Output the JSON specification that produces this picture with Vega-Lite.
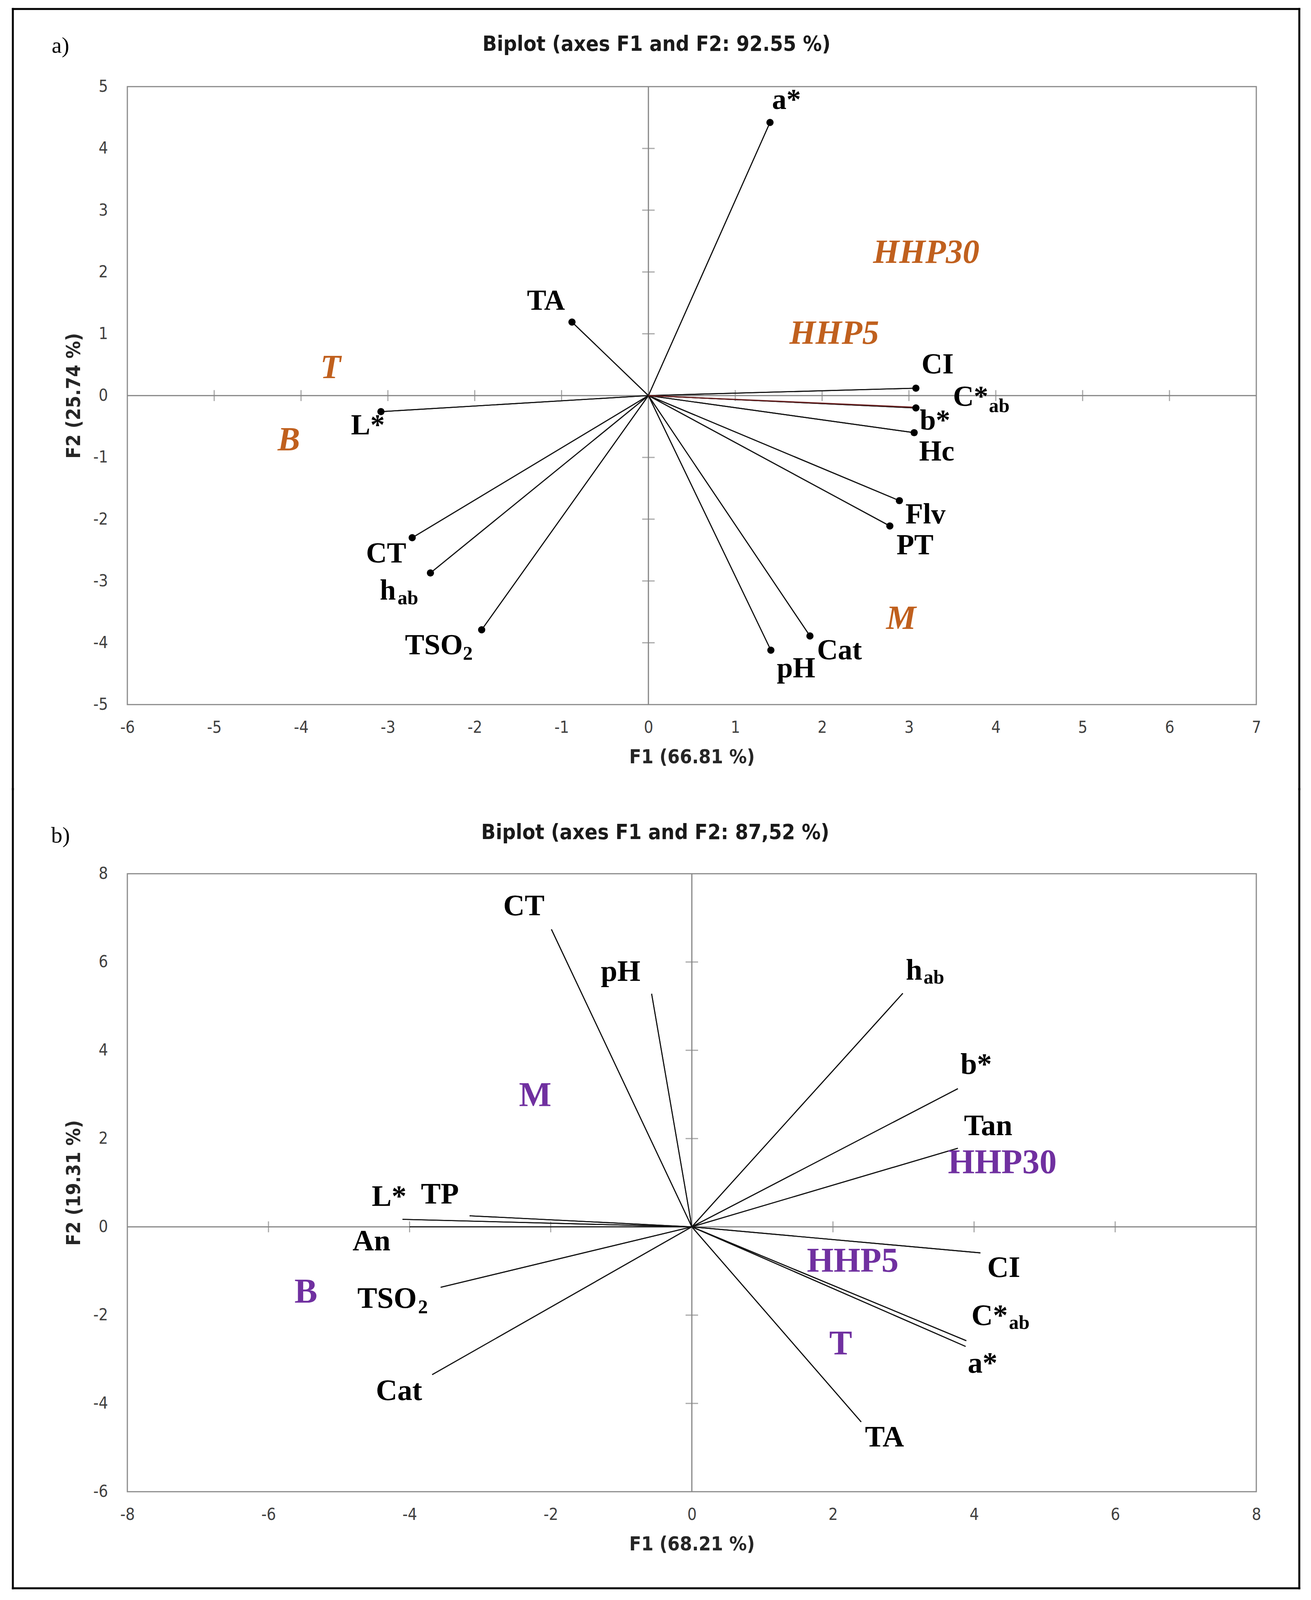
{
  "$schema": "https://vega.github.io/schema/vega-lite/v6.json",
  "background": "white",
  "padding": {"left": 27, "top": 17.7, "right": 5, "bottom": 5},
  "spacing": 433,
  "bounds": "flush",
  "resolve": {"scale": {"x": "independent", "y": "independent"}},
  "config": {
    "view": {"stroke": "#8c8c8c", "strokeWidth": 3},
    "axis": {
      "grid": false, "domain": false, "ticks": false, "tickSize": 0,
      "labelFont": "Liberation Sans Narrow, DejaVu Sans Condensed, Roboto, sans-serif",
      "labelFontSize": 42, "labelColor": "#404040", "labelFlush": false, "labelOverlap": false,
      "labelExpr": "'' + datum.value",
      "titleFont": "Liberation Sans Narrow, DejaVu Sans Condensed, Roboto, sans-serif",
      "titleFontSize": 50, "titleFontWeight": "bold", "titleColor": "#262626"
    },
    "axisX": {"labelPadding": 39, "titlePadding": 30},
    "axisY": {"labelPadding": 50, "titlePadding": 24}
  },
  "datasets": {
    "aVectors": [
      {"var": "a*", "x": 1.40, "y": 4.42},
      {"var": "TA", "x": -0.88, "y": 1.19},
      {"var": "L*", "x": -3.08, "y": -0.26},
      {"var": "CT", "x": -2.72, "y": -2.30},
      {"var": "hab", "x": -2.51, "y": -2.87},
      {"var": "TSO2", "x": -1.92, "y": -3.79},
      {"var": "pH", "x": 1.41, "y": -4.12},
      {"var": "Cat", "x": 1.86, "y": -3.89},
      {"var": "PT", "x": 2.78, "y": -2.11},
      {"var": "Flv", "x": 2.89, "y": -1.70},
      {"var": "Hc", "x": 3.06, "y": -0.60},
      {"var": "b*", "x": 3.08, "y": -0.20},
      {"var": "CI", "x": 3.08, "y": 0.12}
    ],
    "aVectorRed": [
      {"var": "C*ab", "x": 3.08, "y": -0.19}
    ],
    "aLabels": [
      {"label": "a*", "x": 1.59, "y": 4.78},
      {"label": "TA", "x": -1.18, "y": 1.53},
      {"label": "L*", "x": -3.23, "y": -0.49},
      {"label": "CT", "x": -3.02, "y": -2.56},
      {"label": "h", "x": -3.00, "y": -3.16},
      {"label": "TSO", "x": -2.47, "y": -4.05},
      {"label": "pH", "x": 1.70, "y": -4.42},
      {"label": "Cat", "x": 2.20, "y": -4.13},
      {"label": "PT", "x": 3.07, "y": -2.43},
      {"label": "Flv", "x": 3.19, "y": -1.93},
      {"label": "Hc", "x": 3.32, "y": -0.91},
      {"label": "b*", "x": 3.30, "y": -0.41},
      {"label": "C*", "x": 3.71, "y": -0.03},
      {"label": "CI", "x": 3.33, "y": 0.50}
    ],
    "aSubs": [
      {"label": "ab", "x": -2.77, "y": -3.28},
      {"label": "2", "x": -2.08, "y": -4.18},
      {"label": "ab", "x": 4.04, "y": -0.17}
    ],
    "aGroups": [
      {"label": "HHP30", "x": 3.20, "y": 2.31},
      {"label": "HHP5", "x": 2.14, "y": 1.005},
      {"label": "T", "x": -3.66, "y": 0.45},
      {"label": "B", "x": -4.14, "y": -0.72},
      {"label": "M", "x": 2.91, "y": -3.61}
    ],
    "aTicksX": [{"x": -5, "y": 0}, {"x": -4, "y": 0}, {"x": -3, "y": 0}, {"x": -2, "y": 0}, {"x": -1, "y": 0}, {"x": 1, "y": 0}, {"x": 2, "y": 0}, {"x": 3, "y": 0}, {"x": 4, "y": 0}, {"x": 5, "y": 0}, {"x": 6, "y": 0}],
    "aTicksY": [{"x": 0, "y": -4}, {"x": 0, "y": -3}, {"x": 0, "y": -2}, {"x": 0, "y": -1}, {"x": 0, "y": 1}, {"x": 0, "y": 2}, {"x": 0, "y": 3}, {"x": 0, "y": 4}],
    "aHeads": [
      {"label": "a)", "x": -6.77, "y": 5.656}
    ],
    "aTitle": [
      {"label": "Biplot (axes F1 and F2: 92.55 %)", "x": 0.093, "y": 5.682}
    ],
    "bVectors": [
      {"var": "CT", "x": -1.99, "y": 6.74},
      {"var": "pH", "x": -0.57, "y": 5.28},
      {"var": "hab", "x": 2.99, "y": 5.29},
      {"var": "b*", "x": 3.77, "y": 3.13},
      {"var": "Tan", "x": 3.77, "y": 1.78},
      {"var": "CI", "x": 4.09, "y": -0.59},
      {"var": "C*ab", "x": 3.89, "y": -2.58},
      {"var": "a*", "x": 3.88, "y": -2.71},
      {"var": "TA", "x": 2.40, "y": -4.42},
      {"var": "Cat", "x": -3.68, "y": -3.35},
      {"var": "TSO2", "x": -3.56, "y": -1.37},
      {"var": "An", "x": -4.00, "y": 0.0},
      {"var": "L*", "x": -4.10, "y": 0.17},
      {"var": "TP", "x": -3.15, "y": 0.25}
    ],
    "bLabels": [
      {"label": "CT", "x": -2.38, "y": 7.26},
      {"label": "pH", "x": -1.01, "y": 5.78},
      {"label": "h", "x": 3.15, "y": 5.80},
      {"label": "b*", "x": 4.03, "y": 3.67},
      {"label": "Tan", "x": 4.20, "y": 2.28},
      {"label": "CI", "x": 4.42, "y": -0.93},
      {"label": "C*", "x": 4.22, "y": -2.02},
      {"label": "a*", "x": 4.12, "y": -3.10},
      {"label": "TA", "x": 2.73, "y": -4.77},
      {"label": "Cat", "x": -4.15, "y": -3.72},
      {"label": "TSO", "x": -4.32, "y": -1.63},
      {"label": "An", "x": -4.54, "y": -0.33},
      {"label": "L*", "x": -4.29, "y": 0.68},
      {"label": "TP", "x": -3.57, "y": 0.73}
    ],
    "bSubs": [
      {"label": "ab", "x": 3.43, "y": 5.64},
      {"label": "ab", "x": 4.64, "y": -2.18},
      {"label": "2", "x": -3.81, "y": -1.83}
    ],
    "bGroups": [
      {"label": "M", "x": -2.22, "y": 2.97},
      {"label": "HHP30", "x": 4.40, "y": 1.45},
      {"label": "HHP5", "x": 2.28, "y": -0.78},
      {"label": "T", "x": 2.11, "y": -2.66},
      {"label": "B", "x": -5.47, "y": -1.48}
    ],
    "bTicksX": [{"x": -6, "y": 0}, {"x": -4, "y": 0}, {"x": -2, "y": 0}, {"x": 2, "y": 0}, {"x": 4, "y": 0}, {"x": 6, "y": 0}],
    "bTicksY": [{"x": 0, "y": -4}, {"x": 0, "y": -2}, {"x": 0, "y": 2}, {"x": 0, "y": 4}, {"x": 0, "y": 6}],
    "bHeads": [
      {"label": "b)", "x": -8.947, "y": 8.854}
    ],
    "bTitle": [
      {"label": "Biplot (axes F1 and  F2: 87,52 %)", "x": -0.518, "y": 8.928}
    ]
  },
  "vconcat": [
    {
      "width": 2890,
      "height": 1582,
      "layer": [
        {"data": {"name": "aVectors"}, "mark": {"type": "rule", "color": "#111111", "strokeWidth": 2.6},
         "encoding": {
           "x": {"field": "x", "type": "quantitative",
                 "scale": {"domain": [-6, 7], "nice": false, "zero": false},
                 "axis": {"title": "F1 (66.81 %)", "values": [-6, -5, -4, -3, -2, -1, 0, 1, 2, 3, 4, 5, 6, 7]}},
           "y": {"field": "y", "type": "quantitative",
                 "scale": {"domain": [-5, 5], "nice": false, "zero": false},
                 "axis": {"title": "F2 (25.74 %)", "values": [-5, -4, -3, -2, -1, 0, 1, 2, 3, 4, 5]}},
           "x2": {"datum": 0}, "y2": {"datum": 0}}},
        {"data": {"values": [{}]}, "mark": {"type": "rule", "color": "#868686", "strokeWidth": 3},
         "encoding": {"x": {"datum": 0, "type": "quantitative"}}},
        {"data": {"values": [{}]}, "mark": {"type": "rule", "color": "#868686", "strokeWidth": 3},
         "encoding": {"y": {"datum": 0, "type": "quantitative"}}},
        {"data": {"name": "aTicksX"}, "mark": {"type": "tick", "orient": "vertical", "color": "#868686", "thickness": 3, "size": 28},
         "encoding": {"x": {"field": "x", "type": "quantitative"}, "y": {"field": "y", "type": "quantitative"}}},
        {"data": {"name": "aTicksY"}, "mark": {"type": "tick", "orient": "horizontal", "color": "#868686", "thickness": 3, "size": 32},
         "encoding": {"x": {"field": "x", "type": "quantitative"}, "y": {"field": "y", "type": "quantitative"}}},
        {"data": {"name": "aVectors"}, "mark": {"type": "rule", "color": "#111111", "strokeWidth": 2.6},
         "encoding": {"x": {"field": "x", "type": "quantitative"}, "y": {"field": "y", "type": "quantitative"}, "x2": {"datum": 0}, "y2": {"datum": 0}}},
        {"data": {"name": "aVectorRed"}, "mark": {"type": "rule", "color": "#6B2020", "strokeWidth": 3},
         "encoding": {"x": {"field": "x", "type": "quantitative"}, "y": {"field": "y", "type": "quantitative"}, "x2": {"datum": 0}, "y2": {"datum": 0}}},
        {"data": {"name": "aVectors"}, "mark": {"type": "circle", "color": "#000000", "opacity": 1, "size": 340},
         "encoding": {"x": {"field": "x", "type": "quantitative"}, "y": {"field": "y", "type": "quantitative"}}},
        {"data": {"name": "aLabels"}, "mark": {"type": "text", "font": "Liberation Serif, DejaVu Serif, serif", "fontWeight": "bold", "fontSize": 74, "color": "#000000", "baseline": "middle", "align": "center"},
         "encoding": {"x": {"field": "x", "type": "quantitative"}, "y": {"field": "y", "type": "quantitative"}, "text": {"field": "label"}}},
        {"data": {"name": "aSubs"}, "mark": {"type": "text", "font": "Liberation Serif, DejaVu Serif, serif", "fontWeight": "bold", "fontSize": 50, "color": "#000000", "baseline": "middle", "align": "center"},
         "encoding": {"x": {"field": "x", "type": "quantitative"}, "y": {"field": "y", "type": "quantitative"}, "text": {"field": "label"}}},
        {"data": {"name": "aGroups"}, "mark": {"type": "text", "font": "Liberation Serif, DejaVu Serif, serif", "fontWeight": "bold", "fontStyle": "italic", "fontSize": 86, "color": "#C0601E", "baseline": "middle", "align": "center"},
         "encoding": {"x": {"field": "x", "type": "quantitative"}, "y": {"field": "y", "type": "quantitative"}, "text": {"field": "label"}}},
        {"data": {"name": "aHeads"}, "mark": {"type": "text", "font": "Liberation Serif, DejaVu Serif, serif", "fontSize": 58, "color": "#000000", "baseline": "middle", "align": "center", "clip": false},
         "encoding": {"x": {"field": "x", "type": "quantitative"}, "y": {"field": "y", "type": "quantitative"}, "text": {"field": "label"}}},
        {"data": {"name": "aTitle"}, "mark": {"type": "text", "font": "Liberation Sans Narrow, DejaVu Sans Condensed, Roboto, sans-serif", "fontWeight": "bold", "fontSize": 54, "color": "#1a1a1a", "baseline": "middle", "align": "center", "clip": false},
         "encoding": {"x": {"field": "x", "type": "quantitative"}, "y": {"field": "y", "type": "quantitative"}, "text": {"field": "label"}}},
        {"data": {"values": [{}]}, "mark": {"type": "rule", "color": "#000000", "strokeWidth": 5, "strokeCap": "square", "clip": false},
         "encoding": {"x": {"datum": -7.3185, "type": "quantitative"}, "x2": {"datum": 7.4951}, "y": {"datum": 6.2564, "type": "quantitative"}}},
        {"data": {"values": [{}]}, "mark": {"type": "rule", "color": "#000000", "strokeWidth": 5, "strokeCap": "square", "clip": false},
         "encoding": {"x": {"datum": -7.3185, "type": "quantitative"}, "y": {"datum": 6.2564, "type": "quantitative"}, "y2": {"datum": -6.3692}}},
        {"data": {"values": [{}]}, "mark": {"type": "rule", "color": "#000000", "strokeWidth": 5, "strokeCap": "square", "clip": false},
         "encoding": {"x": {"datum": 7.4951, "type": "quantitative"}, "y": {"datum": 6.2564, "type": "quantitative"}, "y2": {"datum": -6.3692}}}
      ]
    },
    {
      "width": 2890,
      "height": 1582,
      "layer": [
        {"data": {"name": "bVectors"}, "mark": {"type": "rule", "color": "#111111", "strokeWidth": 2.6},
         "encoding": {
           "x": {"field": "x", "type": "quantitative",
                 "scale": {"domain": [-8, 8], "nice": false, "zero": false},
                 "axis": {"title": "F1 (68.21 %)", "values": [-8, -6, -4, -2, 0, 2, 4, 6, 8]}},
           "y": {"field": "y", "type": "quantitative",
                 "scale": {"domain": [-6, 8], "nice": false, "zero": false},
                 "axis": {"title": "F2 (19.31 %)", "values": [-6, -4, -2, 0, 2, 4, 6, 8]}},
           "x2": {"datum": 0}, "y2": {"datum": 0}}},
        {"data": {"values": [{}]}, "mark": {"type": "rule", "color": "#868686", "strokeWidth": 3},
         "encoding": {"x": {"datum": 0, "type": "quantitative"}}},
        {"data": {"values": [{}]}, "mark": {"type": "rule", "color": "#868686", "strokeWidth": 3},
         "encoding": {"y": {"datum": 0, "type": "quantitative"}}},
        {"data": {"name": "bTicksX"}, "mark": {"type": "tick", "orient": "vertical", "color": "#868686", "thickness": 3, "size": 28},
         "encoding": {"x": {"field": "x", "type": "quantitative"}, "y": {"field": "y", "type": "quantitative"}}},
        {"data": {"name": "bTicksY"}, "mark": {"type": "tick", "orient": "horizontal", "color": "#868686", "thickness": 3, "size": 32},
         "encoding": {"x": {"field": "x", "type": "quantitative"}, "y": {"field": "y", "type": "quantitative"}}},
        {"data": {"name": "bVectors"}, "mark": {"type": "rule", "color": "#111111", "strokeWidth": 2.6},
         "encoding": {"x": {"field": "x", "type": "quantitative"}, "y": {"field": "y", "type": "quantitative"}, "x2": {"datum": 0}, "y2": {"datum": 0}}},
        {"data": {"name": "bLabels"}, "mark": {"type": "text", "font": "Liberation Serif, DejaVu Serif, serif", "fontWeight": "bold", "fontSize": 76, "color": "#000000", "baseline": "middle", "align": "center"},
         "encoding": {"x": {"field": "x", "type": "quantitative"}, "y": {"field": "y", "type": "quantitative"}, "text": {"field": "label"}}},
        {"data": {"name": "bSubs"}, "mark": {"type": "text", "font": "Liberation Serif, DejaVu Serif, serif", "fontWeight": "bold", "fontSize": 50, "color": "#000000", "baseline": "middle", "align": "center"},
         "encoding": {"x": {"field": "x", "type": "quantitative"}, "y": {"field": "y", "type": "quantitative"}, "text": {"field": "label"}}},
        {"data": {"name": "bGroups"}, "mark": {"type": "text", "font": "Liberation Serif, DejaVu Serif, serif", "fontWeight": "bold", "fontSize": 88, "color": "#7030A0", "baseline": "middle", "align": "center"},
         "encoding": {"x": {"field": "x", "type": "quantitative"}, "y": {"field": "y", "type": "quantitative"}, "text": {"field": "label"}}},
        {"data": {"name": "bHeads"}, "mark": {"type": "text", "font": "Liberation Serif, DejaVu Serif, serif", "fontSize": 58, "color": "#000000", "baseline": "middle", "align": "center", "clip": false},
         "encoding": {"x": {"field": "x", "type": "quantitative"}, "y": {"field": "y", "type": "quantitative"}, "text": {"field": "label"}}},
        {"data": {"name": "bTitle"}, "mark": {"type": "text", "font": "Liberation Sans Narrow, DejaVu Sans Condensed, Roboto, sans-serif", "fontWeight": "bold", "fontSize": 54, "color": "#1a1a1a", "baseline": "middle", "align": "center", "clip": false},
         "encoding": {"x": {"field": "x", "type": "quantitative"}, "y": {"field": "y", "type": "quantitative"}, "text": {"field": "label"}}},
        {"data": {"values": [{}]}, "mark": {"type": "rule", "color": "#000000", "strokeWidth": 5, "strokeCap": "square", "clip": false},
         "encoding": {"x": {"datum": -9.6227, "type": "quantitative"}, "y": {"datum": 9.9169, "type": "quantitative"}, "y2": {"datum": -8.1897}}},
        {"data": {"values": [{}]}, "mark": {"type": "rule", "color": "#000000", "strokeWidth": 5, "strokeCap": "square", "clip": false},
         "encoding": {"x": {"datum": 8.6092, "type": "quantitative"}, "y": {"datum": 9.9169, "type": "quantitative"}, "y2": {"datum": -8.1897}}},
        {"data": {"values": [{}]}, "mark": {"type": "rule", "color": "#000000", "strokeWidth": 5, "strokeCap": "square", "clip": false},
         "encoding": {"x": {"datum": -9.6227, "type": "quantitative"}, "x2": {"datum": 8.6092}, "y": {"datum": -8.1897, "type": "quantitative"}}}
      ]
    }
  ]
}
